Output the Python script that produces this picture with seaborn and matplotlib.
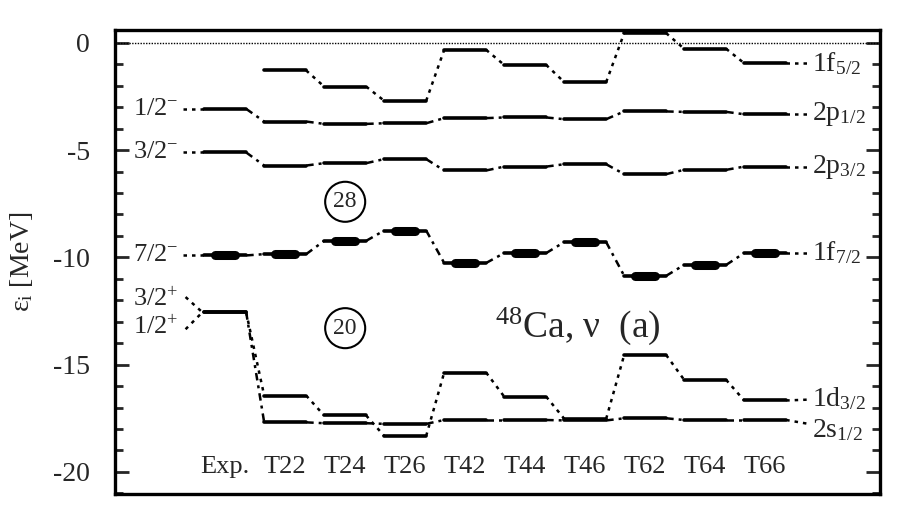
# single-particle levels of 48Ca (neutrons), Exp. vs Skyrme TIJ
import numpy as np
import pandas as pd
import matplotlib
matplotlib.use("Agg")
import matplotlib.pyplot as plt
import seaborn as sns

models = ["Exp.", "T22", "T24", "T26", "T42", "T44", "T46", "T62", "T64", "T66"]

# energies in MeV (nan = no level shown)
f52 = [np.nan, -1.29, -2.04, -2.70, -0.33, -1.03, -1.83, 0.45, -0.28, -0.95]
p12 = [-3.08, -3.67, -3.78, -3.75, -3.51, -3.48, -3.56, -3.20, -3.22, -3.33]
p32 = [-5.11, -5.72, -5.61, -5.42, -5.95, -5.77, -5.66, -6.12, -5.92, -5.77]
f72 = [-9.91, -9.85, -9.23, -8.75, -10.26, -9.80, -9.29, -10.86, -10.35, -9.80]
d32 = [-12.56, -16.44, -17.37, -18.32, -15.37, -16.49, -17.52, -14.55, -15.71, -16.67]
s12 = [-12.56, -17.69, -17.73, -17.76, -17.58, -17.58, -17.60, -17.50, -17.58, -17.58]

orbitals = ["1f5/2", "2p1/2", "2p3/2", "1f7/2", "1d3/2", "2s1/2"]
orb_vals = [f52, p12, p32, f72, d32, s12]
orb_ls = ["dot", "dashdot", "dashdot", "dashdot", "dot", "dashdot"]
orb_tex = ["1f$_{5/2}$", "2p$_{1/2}$", "2p$_{3/2}$", "1f$_{7/2}$", "1d$_{3/2}$", "2s$_{1/2}$"]
orb_label_shift = [0, 0, 0, 0, 0.1, -0.45]

exp_labels = ["1/2$^{-}$", "3/2$^{-}$", "7/2$^{-}$"]
exp_label_e = [p12[0], p32[0], f72[0]]
pos_labels = ["3/2$^{+}$", "1/2$^{+}$"]
pos_label_e = [-11.95, -13.25]

hw = 0.35  # half width of a level bar

sns.set_style("ticks")
plt.rcParams["font.family"] = ["Liberation Serif", "DejaVu Serif"]
plt.rcParams["mathtext.fontset"] = "custom"
plt.rcParams["mathtext.rm"] = "Liberation Serif"
plt.rcParams["mathtext.it"] = "Liberation Serif:italic"
plt.rcParams["axes.unicode_minus"] = False

# level bars and connecting lines in long format
bar_rows, conn_rows, thick_rows = [], [], []
for name, vals, ls in zip(orbitals, orb_vals, orb_ls):
    for i, v in enumerate(vals):
        if np.isnan(v):
            continue
        for dx in (-hw, hw):
            bar_rows.append(dict(bar=f"{name}-{i}", x=i + dx, e=v))
        if name == "1f7/2":
            for dx in (-0.17, 0.17):
                thick_rows.append(dict(bar=f"{name}-{i}", x=i + dx, e=v))
        if i + 1 < len(vals) and not np.isnan(vals[i + 1]):
            conn_rows.append(dict(seg=f"{name}-{i}", x=i + hw, e=v, ls=ls))
            conn_rows.append(dict(seg=f"{name}-{i}", x=i + 1 - hw, e=vals[i + 1], ls=ls))
bars = pd.DataFrame(bar_rows)
conns = pd.DataFrame(conn_rows)
thick = pd.DataFrame(thick_rows)

fig, ax = plt.subplots(figsize=(9, 5.25), dpi=100)
fig.subplots_adjust(left=0.128, right=0.978, bottom=0.059, top=0.943)

sns.lineplot(data=bars, x="x", y="e", units="bar", estimator=None, sort=False,
             color="black", lw=2.6, ax=ax, legend=False)
sns.lineplot(data=thick, x="x", y="e", units="bar", estimator=None, sort=False,
             color="black", lw=6.5, ax=ax, legend=False)
sns.lineplot(data=conns, x="x", y="e", units="seg", estimator=None, sort=False,
             style="ls", dashes={"dot": (1.4, 2.0), "dashdot": (3, 2, 1.2, 2)},
             color="black", lw=1.8, ax=ax, legend=False)

ax.axhline(0, color="black", lw=1, ls=(0, (1, 1)))

dots = (0, (1.4, 2.0))
# right-hand orbital names
n = len(models) - 1
for vals, tex, sh in zip(orb_vals, orb_tex, orb_label_shift):
    ax.plot([n + hw, n + 0.72], [vals[-1], vals[-1] + 0.4 * sh], color="black", lw=1.8, ls=dots)
    ax.text(n + 0.78, vals[-1] + sh, tex, fontsize=20, ha="left", va="center")

# left-hand spin labels
for lab, e in zip(exp_labels, exp_label_e):
    ax.plot([-0.70, -hw], [e, e], color="black", lw=1.8, ls=dots)
    ax.text(-0.78, e, lab, fontsize=19, ha="right", va="center")
for lab, e in zip(pos_labels, pos_label_e):
    ax.plot([-0.66, -0.38], [e + (0.1 if e > d32[0] else -0.1), d32[0]],
            color="black", lw=1.8, ls=dots)
    ax.text(-0.78, e, lab, fontsize=19, ha="right", va="center")

# model names inside the frame
for i, m in enumerate(models):
    ax.text(i, -19.75, m, fontsize=19, ha="center", va="center")

# magic numbers
circ = dict(boxstyle="circle,pad=0.35", fc="white", ec="black", lw=1.5)
ax.text(2, -7.41, "28", fontsize=17, ha="center", va="center", bbox=circ)
ax.text(2, -13.3, "20", fontsize=17, ha="center", va="center", bbox=circ)

ax.text(4.5, -13.2, "$^{48}$Ca, ν  (a)", fontsize=27, ha="left", va="center")

ax.set_xlim(-1.833, 10.917)
ax.set_ylim(-21.03, 0.6)
ax.set_xticks([])
ax.set_yticks([0, -5, -10, -15, -20])
ax.set_yticks(np.arange(-21, 1, 1), minor=True)
ax.tick_params(axis="y", which="both", direction="in", right=True, width=2,
               labelsize=20, pad=18)
ax.tick_params(axis="y", which="major", length=10)
ax.tick_params(axis="y", which="minor", length=6)
ax.set_xlabel("")
ax.set_ylabel("ε$_{\\mathrm{i}}$ [MeV]", fontsize=20)
ax.yaxis.set_label_coords(-0.105, 0.5)
for s in ax.spines.values():
    s.set_linewidth(2.4)
    s.set_color("black")

fig.savefig("out.png", dpi=100)
